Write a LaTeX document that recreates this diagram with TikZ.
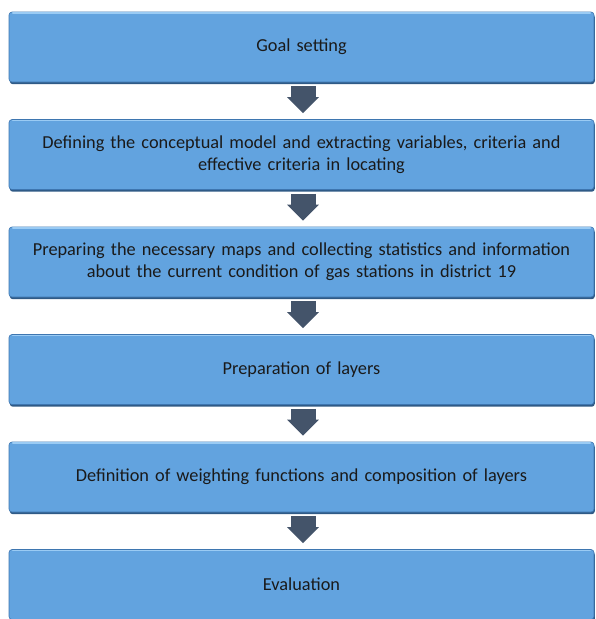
\documentclass[tikz,border=0pt]{standalone}
\usepackage{fontspec}
\setmainfont{Carlito}
\usetikzlibrary{arrows.meta,calc}
\definecolor{boxfill}{HTML}{62A3DF}
\definecolor{boxedge}{HTML}{3E76B0}
\definecolor{boxshadow}{HTML}{2F5A86}
\definecolor{boxlight}{HTML}{9ACBF4}
\definecolor{arrowcol}{HTML}{44546A}
\definecolor{txt}{HTML}{1A1A1A}
\tikzset{
  stepbox/.style={rectangle, rounded corners=3pt, minimum width=585pt, minimum height=70pt,
    fill=boxfill, draw=boxedge, line width=0.6pt, align=center, text width=580pt, text=txt,
    font=\fontsize{18.3pt}{22pt}\selectfont, inner sep=0pt,
    preaction={fill=boxshadow, rounded corners=3pt, transform canvas={yshift=-2.2pt, xshift=0.8pt}}},
  flowarrow/.style={draw=arrowcol, line width=25pt, -{Triangle[width=31pt,length=16pt]}, color=arrowcol}
}
\begin{document}
\begin{tikzpicture}[x=1pt,y=1pt]
\useasboundingbox (0,0) rectangle (596,-619);
\node[stepbox] (b1) at (301.5,-47) {Goal setting};
\node[stepbox] (b2) at (301.5,-154.5) {Defining the conceptual model and extracting variables, criteria and\\effective criteria in locating};
\node[stepbox] (b3) at (301.5,-262) {Preparing the necessary maps and collecting statistics and information\\about the current condition of gas stations in district 19};
\node[stepbox] (b4) at (301.5,-369.5) {Preparation of layers};
\node[stepbox] (b5) at (301.5,-477) {Definition of weighting functions and composition of layers};
\node[stepbox] (b6) at (301.5,-584.5) {Evaluation};
\foreach \n in {b1,b2,b3,b4,b5,b6}{
  \draw[boxlight, line width=1.2pt, line cap=round] ([xshift=4pt,yshift=-1.3pt]\n.north west) -- ([xshift=-4pt,yshift=-1.3pt]\n.north east);
}
\foreach \a/\b in {b1/b2,b2/b3,b3/b4,b4/b5,b5/b6}{
  \draw[flowarrow] ([xshift=1.5pt,yshift=-4pt]\a.south) -- ([xshift=1.5pt,yshift=6pt]\b.north);
}
\end{tikzpicture}
\end{document}
